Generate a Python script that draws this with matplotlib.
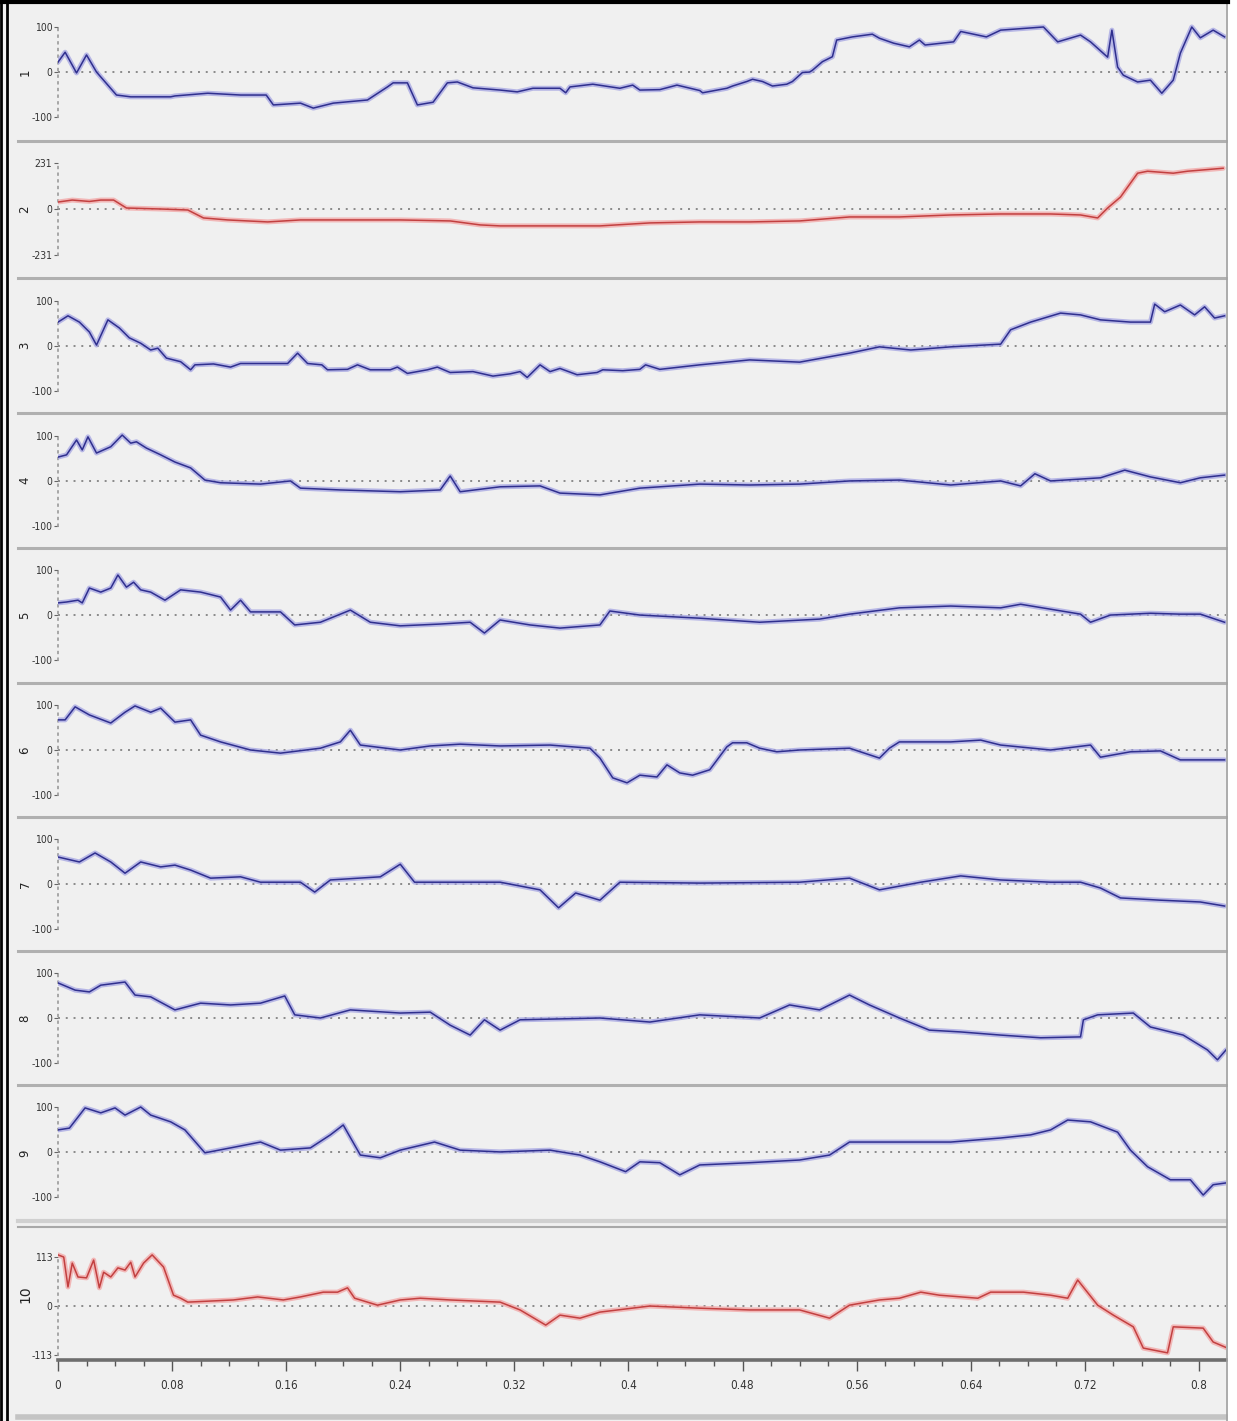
import matplotlib
matplotlib.use("Agg")
import matplotlib.pyplot as plt
from matplotlib.lines import Line2D
from matplotlib.patches import Rectangle
from matplotlib.ticker import MultipleLocator

# ---- data (x in time units, y in signal units) ----
ch1 = [(0, 22), (.005, 44), (.013, -2), (.020, 38), (.027, 0), (.041, -51), (.051, -55), (.079, -55),
       (.082, -53), (.105, -47), (.128, -51), (.146, -51), (.151, -73), (.170, -69), (.179, -80),
       (.193, -69), (.217, -62), (.231, -33), (.235, -24), (.245, -24), (.252, -73), (.263, -67),
       (.273, -24), (.280, -22), (.291, -35), (.310, -40), (.322, -44), (.333, -36), (.352, -36),
       (.356, -46), (.359, -33), (.375, -27), (.394, -36), (.403, -29), (.408, -40), (.422, -39),
       (.434, -29), (.450, -41), (.452, -46), (.469, -36), (.473, -31), (.483, -21), (.487, -16),
       (.494, -21), (.501, -31), (.511, -27), (.515, -21), (.522, -1), (.527, 0), (.529, 4), (.536, 23),
       (.543, 34), (.546, 71), (.557, 78), (.571, 84), (.576, 75), (.586, 64), (.597, 56), (.604, 71),
       (.608, 60), (.628, 67), (.633, 90), (.651, 78), (.661, 93), (.691, 100), (.701, 67), (.717, 82),
       (.724, 67), (.736, 33), (.739, 93), (.743, 11), (.747, -7), (.757, -22), (.766, -18), (.774, -47),
       (.782, -18), (.787, 42), (.795, 100), (.801, 76), (.810, 93), (.818, 78)]
ch2 = [(0, 35), (.010, 45), (.022, 38), (.030, 45), (.039, 45), (.048, 5), (.072, 0), (.091, -5),
       (.102, -45), (.119, -55), (.147, -65), (.170, -55), (.205, -55), (.240, -55), (.275, -60),
       (.296, -80), (.310, -85), (.345, -85), (.380, -85), (.415, -70), (.450, -65), (.485, -65),
       (.520, -60), (.555, -40), (.590, -40), (.626, -30), (.661, -25), (.696, -25), (.717, -30),
       (.729, -45), (.736, 5), (.745, 60), (.757, 180), (.764, 190), (.782, 180), (.792, 190), (.817, 205)]
ch3 = [(0, 53), (.007, 67), (.015, 53), (.022, 31), (.027, 2), (.035, 58), (.043, 40), (.050, 18),
       (.058, 6), (.065, -9), (.070, -5), (.076, -27), (.086, -35), (.093, -53), (.096, -42),
       (.109, -40), (.121, -47), (.128, -39), (.151, -39), (.161, -39), (.168, -16), (.175, -39),
       (.185, -42), (.189, -53), (.203, -52), (.210, -42), (.219, -53), (.233, -53), (.238, -47),
       (.245, -61), (.259, -53), (.266, -47), (.275, -59), (.291, -57), (.305, -67), (.317, -62),
       (.324, -57), (.329, -70), (.338, -42), (.345, -57), (.352, -50), (.364, -64), (.378, -59),
       (.382, -53), (.396, -55), (.408, -52), (.412, -42), (.422, -52), (.450, -42), (.485, -31),
       (.520, -36), (.555, -16), (.576, -2), (.598, -9), (.626, -2), (.661, 4), (.668, 36), (.682, 53),
       (.703, 73), (.717, 69), (.731, 58), (.752, 53), (.766, 53), (.769, 93), (.776, 76), (.787, 91),
       (.797, 69), (.804, 87), (.811, 62), (.818, 67)]
ch4 = [(0, 53), (.006, 58), (.013, 91), (.017, 69), (.021, 98), (.027, 62), (.037, 76), (.045, 102),
       (.051, 84), (.055, 87), (.062, 73), (.072, 58), (.082, 42), (.093, 29), (.103, 2), (.114, -4),
       (.142, -7), (.163, 0), (.170, -16), (.198, -20), (.240, -24), (.268, -20), (.275, 11),
       (.282, -24), (.310, -13), (.338, -11), (.352, -27), (.380, -31), (.408, -16), (.450, -7),
       (.485, -9), (.520, -7), (.555, 0), (.590, 2), (.626, -9), (.661, 0), (.675, -11), (.685, 16),
       (.696, 0), (.731, 7), (.748, 24), (.766, 9), (.787, -4), (.801, 7), (.818, 13)]
ch5 = [(0, 27), (.006, 29), (.014, 33), (.017, 27), (.022, 60), (.030, 51), (.037, 60), (.042, 89),
       (.048, 62), (.053, 73), (.058, 56), (.065, 51), (.075, 33), (.086, 56), (.100, 51), (.114, 40),
       (.121, 11), (.128, 33), (.135, 7), (.156, 7), (.166, -22), (.184, -16), (.205, 11), (.219, -16),
       (.240, -24), (.268, -20), (.289, -16), (.299, -40), (.310, -11), (.331, -22), (.352, -29),
       (.380, -22), (.387, 9), (.408, 0), (.450, -7), (.492, -16), (.534, -9), (.555, 2), (.590, 16),
       (.626, 20), (.661, 16), (.675, 24), (.696, 13), (.717, 2), (.724, -16), (.738, 0), (.766, 4),
       (.787, 2), (.801, 2), (.818, -16)]
ch6 = [(0, 67), (.005, 67), (.012, 96), (.022, 78), (.037, 60), (.047, 84), (.054, 98), (.065, 84),
       (.072, 93), (.082, 62), (.093, 67), (.100, 33), (.114, 18), (.135, 0), (.156, -7), (.184, 4),
       (.198, 18), (.205, 44), (.212, 11), (.240, 0), (.261, 9), (.282, 13), (.310, 9), (.345, 11),
       (.373, 4), (.380, -18), (.389, -62), (.399, -73), (.408, -56), (.420, -60), (.427, -33),
       (.436, -51), (.445, -56), (.457, -44), (.469, 7), (.473, 16), (.483, 16), (.492, 4), (.504, -4),
       (.520, 0), (.555, 4), (.576, -18), (.583, 4), (.590, 18), (.626, 18), (.647, 22), (.661, 11),
       (.696, 0), (.724, 11), (.731, -16), (.752, -4), (.773, -2), (.787, -22), (.818, -22)]
ch7 = [(0, 60), (.015, 49), (.026, 69), (.037, 49), (.047, 24), (.058, 49), (.072, 38), (.082, 42),
       (.093, 31), (.107, 13), (.128, 16), (.142, 4), (.170, 4), (.180, -18), (.191, 9), (.226, 16),
       (.240, 44), (.250, 4), (.275, 4), (.310, 4), (.338, -13), (.351, -53), (.363, -20), (.380, -36),
       (.394, 4), (.450, 2), (.520, 4), (.555, 13), (.576, -13), (.605, 4), (.633, 18), (.661, 9),
       (.696, 4), (.717, 4), (.731, -9), (.745, -31), (.773, -36), (.801, -40), (.818, -49)]
ch8 = [(0, 78), (.012, 62), (.022, 58), (.030, 73), (.047, 80), (.054, 51), (.065, 47), (.082, 18),
       (.100, 33), (.121, 29), (.142, 33), (.159, 49), (.166, 7), (.184, 0), (.205, 18), (.240, 11),
       (.261, 13), (.275, -16), (.289, -38), (.299, -4), (.310, -27), (.324, -4), (.380, 0),
       (.415, -9), (.450, 7), (.492, 0), (.513, 29), (.534, 18), (.555, 51), (.569, 29), (.590, 0),
       (.611, -27), (.633, -31), (.661, -38), (.689, -44), (.717, -42), (.719, -4), (.729, 7),
       (.754, 11), (.766, -20), (.789, -38), (.806, -71), (.813, -93), (.819, -71)]
ch9 = [(0, 49), (.008, 53), (.019, 98), (.030, 87), (.040, 98), (.047, 82), (.058, 100), (.065, 82),
       (.079, 67), (.089, 49), (.103, -2), (.121, 9), (.142, 22), (.156, 4), (.177, 9), (.191, 38),
       (.200, 60), (.212, -7), (.226, -13), (.240, 4), (.264, 22), (.282, 4), (.310, 0), (.345, 4),
       (.366, -7), (.380, -22), (.398, -44), (.408, -22), (.422, -24), (.436, -51), (.450, -29),
       (.485, -24), (.520, -18), (.541, -7), (.555, 22), (.590, 22), (.626, 22), (.661, 31),
       (.682, 38), (.696, 49), (.708, 71), (.724, 67), (.743, 44), (.752, 4), (.764, -33), (.780, -62),
       (.794, -62), (.803, -96), (.810, -73), (.819, -69)]
ch10 = [(0, 118), (.004, 113), (.007, 44), (.010, 99), (.014, 67), (.020, 65), (.025, 106), (.029, 42),
        (.032, 78), (.037, 67), (.042, 88), (.047, 83), (.051, 101), (.054, 67), (.060, 99), (.066, 118),
        (.074, 90), (.081, 25), (.086, 18), (.091, 9), (.123, 14), (.140, 21), (.158, 14), (.170, 21),
        (.186, 32), (.196, 32), (.203, 42), (.208, 18), (.224, 2), (.240, 14), (.254, 18), (.275, 14),
        (.310, 9), (.324, -9), (.342, -44), (.352, -21), (.366, -28), (.380, -14), (.415, 0), (.450, -5),
        (.485, -9), (.520, -9), (.541, -28), (.555, 2), (.576, 14), (.590, 18), (.605, 32), (.618, 25),
        (.645, 18), (.654, 32), (.677, 32), (.696, 25), (.708, 18), (.715, 60), (.729, 2), (.740, -21),
        (.754, -48), (.761, -97), (.778, -108), (.782, -48), (.803, -51), (.810, -83), (.820, -97)]

channels = [ch1, ch2, ch3, ch4, ch5, ch6, ch7, ch8, ch9, ch10]
channel_names = ["1", "2", "3", "4", "5", "6", "7", "8", "9", "10"]
tick_max = [100, 231, 100, 100, 100, 100, 100, 100, 100, 113]
colours = ["blue", "red", "blue", "blue", "blue", "blue", "blue", "blue", "blue", "red"]
x_ticks = [0, 0.08, 0.16, 0.24, 0.32, 0.4, 0.48, 0.56, 0.64, 0.72, 0.8]
x_tick_labels = ["0", "0.08", "0.16", "0.24", "0.32", "0.4", "0.48", "0.56", "0.64", "0.72", "0.8"]

# ---- layout (pixels of the 1237 x 1421 canvas) ----
W, H = 1237, 1421
panel_px = [(4, 141), (141, 278), (278, 413), (413, 548), (548, 683),
            (683, 817), (817, 951), (951, 1085), (1085, 1222), (1228, 1360)]
ylims = [(-153, 151), (-347, 342), (-149, 151), (-149, 151), (-151, 149),
         (-149, 149), (-149, 149), (-149, 149), (-156, 149), (-124.5, 180)]
x_left, x_right = 58, 1226
XMAX = 0.819

line_style = {"blue": ("#a4a4e2", "#2f2f8e"), "red": ("#f2a4a4", "#c24040")}
narrow = ["Liberation Sans Narrow", "DejaVu Sans"]

fig = plt.figure(figsize=(W / 100, H / 100), dpi=100, facecolor="#f0f0f0")

for i, (data, name, tmax, col) in enumerate(zip(channels, channel_names, tick_max, colours)):
    top, bot = panel_px[i]
    ax = fig.add_axes([x_left / W, 1 - bot / H, (x_right - x_left) / W, (bot - top) / H])
    ax.set_facecolor("#f0f0f0")
    xs = [p[0] for p in data]
    ys = [p[1] for p in data]
    halo, core = line_style[col]
    ax.plot(xs, ys, color=halo, lw=3.6, alpha=0.75, solid_capstyle="round", zorder=3)
    ax.plot(xs, ys, color=core, lw=1.1, zorder=4)
    ax.axhline(0, color="#8a8a8a", lw=1.4, ls=(0, (1, 3)), zorder=2)
    ax.set_xlim(0, XMAX)
    ax.set_ylim(*ylims[i])

    for s in ("top", "right", "bottom"):
        ax.spines[s].set_visible(False)
    ax.spines["left"].set_bounds(-tmax, tmax)
    ax.spines["left"].set_linestyle((0, (1, 3)))
    ax.spines["left"].set_color("#9a9a9a")
    ax.spines["left"].set_linewidth(1.2)

    ax.set_yticks([tmax, 0, -tmax])
    ax.set_yticklabels([str(tmax), "0", "-" + str(tmax)], family=narrow, fontstretch="condensed",
                       fontsize=7.5, color="#333333")
    ax.tick_params(axis="y", direction="out", length=3, width=0.8, color="#666666", pad=1)

    fig.text(25 / W, 1 - ((top + bot) / 2) / H, name, rotation=90, ha="center", va="center",
             fontsize=10 if name == "10" else 8.5, color="#222222")

    if i < 9:
        ax.set_xticks([])
    else:
        ax.spines["bottom"].set_visible(True)
        ax.spines["bottom"].set_color("#6e6e6e")
        ax.spines["bottom"].set_linewidth(2.6)
        ax.spines["bottom"].set_bounds(0, XMAX)
        ax.set_xticks(x_ticks)
        ax.set_xticklabels(x_tick_labels, family=narrow, fontstretch="condensed", fontsize=8.5,
                           color="#333333")
        ax.xaxis.set_minor_locator(MultipleLocator(0.02))
        ax.tick_params(axis="x", which="major", direction="out", length=8, width=1, color="#555555", pad=6)
        ax.tick_params(axis="x", which="minor", direction="out", length=4, width=1, color="#555555")

# panel separators
for y in [141, 278, 413, 548, 683, 817, 951, 1085]:
    fig.add_artist(Line2D([18 / W, 1226 / W], [1 - y / H, 1 - y / H], color="#b0b0b0", lw=2.2))
fig.add_artist(Line2D([18 / W, 1226 / W], [1 - 1221 / H, 1 - 1221 / H], color="#d0d0d0", lw=3))
fig.add_artist(Line2D([18 / W, 1226 / W], [1 - 1227 / H, 1 - 1227 / H], color="#a8a8a8", lw=1.5))
fig.add_artist(Line2D([18 / W, 1226 / W], [1 - 1417 / H, 1 - 1417 / H], color="#c4c4c4", lw=4))

# right border and white margin
fig.add_artist(Rectangle((1228 / W, 0), 9 / W, 1, transform=fig.transFigure, color="white", zorder=5))
fig.add_artist(Line2D([1227 / W, 1227 / W], [0, 1 - 4 / H], color="#a0a0a0", lw=1.2, zorder=6))

# black frame on the left and top
fig.add_artist(Line2D([1 / W, 1 / W], [0, 1], color="black", lw=2, zorder=7))
fig.add_artist(Line2D([6.5 / W, 6.5 / W], [0, 1 - 4 / H], color="black", lw=2, zorder=7))
fig.add_artist(Line2D([0, 1228 / W], [1 - 1.5 / H, 1 - 1.5 / H], color="black", lw=3, zorder=7))

fig.savefig("out.png", dpi=100, facecolor=fig.get_facecolor())
